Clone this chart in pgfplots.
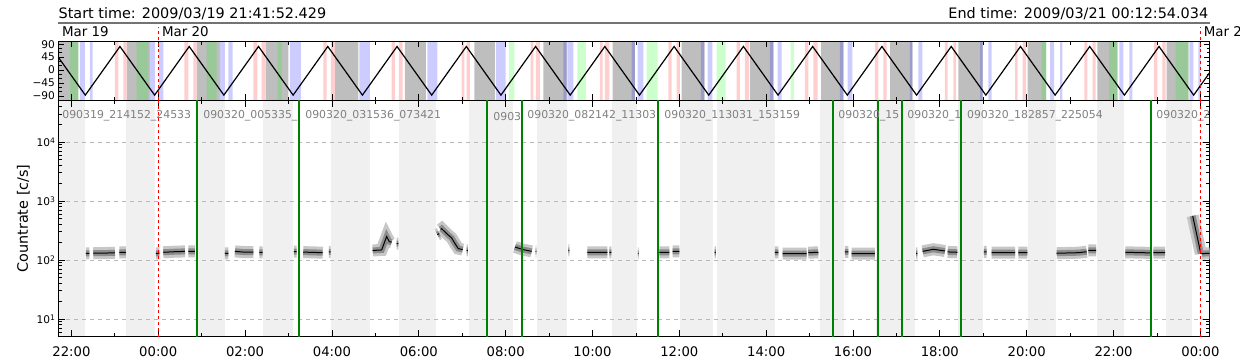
\documentclass[border=0pt]{standalone}
\usepackage{pgfplots}
\pgfplotsset{compat=1.18}
\usepackage{fontspec}
\setmainfont{DejaVu Sans}
\definecolor{bgray}{HTML}{BEBEBE}
\definecolor{dgreen}{HTML}{99C899}
\definecolor{dblue}{HTML}{9C9CCC}
\definecolor{lblue}{HTML}{CCCCFF}
\definecolor{lgreen}{HTML}{CCFFCC}
\definecolor{lpink}{HTML}{FFCFCF}
\definecolor{bglight}{HTML}{F0F0F0}
\definecolor{gline}{HTML}{008000}
\pgfplotstableread{
x y
-1.665 130
-1.589 130
nan nan
-1.497 130
-0.997 132
nan nan
-0.898 135
-0.744 135
nan nan
-0.053 130
0.023 130
nan nan
0.115 135
0.365 138
0.615 140
nan nan
0.691 140
0.845 140
nan nan
1.536 130
1.612 130
nan nan
1.766 140
1.977 136
2.188 136
nan nan
2.326 135
2.404 135
nan nan
3.125 138
3.187 138
nan nan
3.339 136
3.786 133
nan nan
3.931 137
3.970 137
nan nan
4.938 145
5.145 148
5.260 250
5.320 205
5.375 200
nan nan
5.491 190
5.527 190
nan nan
6.426 270
6.472 280
nan nan
6.504 330
6.527 340
6.642 280
6.757 236
6.833 190
6.909 156
7.011 150
nan nan
7.103 145
7.133 145
nan nan
8.215 166
8.400 150
8.600 140
nan nan
8.690 140
8.710 140
nan nan
9.443 145
9.466 145
nan nan
9.880 135
10.341 135
nan nan
10.387 135
10.433 135
nan nan
11.045 130
11.065 130
nan nan
11.538 135
11.769 135
nan nan
11.847 140
11.999 140
nan nan
12.814 135
12.844 135
nan nan
14.203 135
14.279 135
nan nan
14.380 128
14.933 128
nan nan
14.970 133
15.200 135
nan nan
15.815 137
15.891 137
nan nan
15.969 128
16.506 128
nan nan
17.451 130
17.480 130
nan nan
17.604 140
17.850 152
18.118 142
nan nan
18.180 137
18.401 135
nan nan
19.016 137
19.078 137
nan nan
19.194 133
19.731 133
nan nan
19.807 133
20.014 133
nan nan
20.691 130
21.200 133
21.382 138
nan nan
21.419 145
21.596 145
nan nan
22.271 135
22.840 132
nan nan
22.916 133
23.186 133
nan nan
23.823 560
24.010 128
nan nan
24.030 128
24.215 130
}\ratetable
\begin{document}
\begin{tikzpicture}
\pgfplotsset{
  panel/.style={scale only axis, width=575.7pt, xmin=-2.302, xmax=24.215, anchor=south west},
  band/.style={const plot mark left, fill=#1, draw=none},
}
% ---------------- top panel: bands ----------------
\begin{axis}[panel, at={(29.15pt,129.85pt)}, height=29.5pt, ymin=0, ymax=1, hide axis]
\addplot[band=bgray] coordinates {(-2.302,1)(-2.034,0)(-0.728,1)(-0.191,0)(0.884,1)(1.421,0)(2.474,1)(2.997,0)(4.070,1)(4.606,0)(5.682,1)(6.165,0)(7.278,1)(7.755,0)(8.867,1)(9.406,0)(10.465,1)(10.979,0)(12.054,1)(12.575,0)(13.628,1)(14.164,0)(15.263,1)(15.776,0)(16.852,1)(17.365,0)(18.425,1)(18.987,0)(20.023,1)(20.445,0)(21.626,1)(22.087,0)(23.224,1)(23.722,0)} \closedcycle;
\addplot[band=dgreen] coordinates {(-2.034,1)(-1.842,0)(-0.497,1)(-0.230,0)(1.115,1)(1.345,0)(2.750,1)(2.842,0)(20.346,1)(20.445,0)(21.896,1)(22.087,0)(23.432,1)(23.722,0)} \closedcycle;
\addplot[band=dblue] coordinates {(9.328,1)(9.406,0)(10.903,1)(10.979,0)(12.499,1)(12.575,0)(14.088,1)(14.164,0)(15.700,1)(15.776,0)(17.312,1)(17.365,0)(18.925,1)(18.987,0)} \closedcycle;
\addplot[band=lblue] coordinates {(-1.803,1)(-1.688,0)(-1.573,1)(-1.511,0)(-0.191,1)(-0.076,0)(0.016,1)(0.115,0)(1.421,1)(1.536,0)(1.612,1)(1.714,0)(3.033,1)(3.287,0)(4.629,1)(4.876,0)(6.195,1)(6.426,0)(7.778,1)(8.001,0)(9.420,1)(9.558,0)(11.041,1)(11.170,0)(12.653,1)(12.759,0)(14.266,1)(14.358,0)(15.878,1)(15.984,0)(17.504,1)(17.596,0)(19.116,1)(19.194,0)(20.537,1)(20.629,0)(20.768,1)(20.820,0)(22.133,1)(22.225,0)(22.363,1)(22.432,0)(23.745,1)(23.837,0)(23.952,1)(24.008,0)} \closedcycle;
\addplot[band=lgreen] coordinates {(8.077,1)(8.199,0)(9.650,1)(9.850,0)(11.248,1)(11.502,0)(12.861,1)(13.068,0)(14.565,1)(14.641,0)} \closedcycle;
\addplot[band=lpink] coordinates {(-0.997,1)(-0.921,0)(-0.806,1)(-0.728,0)(0.599,1)(0.691,0)(0.806,1)(0.884,0)(2.188,1)(2.280,0)(2.381,1)(2.474,0)(3.800,1)(3.878,0)(3.977,1)(4.070,0)(5.375,1)(5.452,0)(5.544,1)(5.629,0)(6.988,1)(7.048,0)(7.103,1)(7.179,0)(8.577,1)(8.637,0)(8.699,1)(8.791,0)(10.173,1)(10.235,0)(10.288,1)(10.387,0)(11.746,1)(11.824,0)(11.939,1)(12.015,0)(13.321,1)(13.397,0)(13.512,1)(13.605,0)(14.894,1)(14.970,0)(15.085,1)(15.187,0)(16.506,1)(16.582,0)(16.697,1)(16.776,0)(18.118,1)(18.181,0)(18.310,1)(18.372,0)(19.731,1)(19.793,0)(19.908,1)(19.984,0)(21.327,1)(21.396,0)(21.520,1)(21.589,0)(22.932,1)(23.008,0)(23.123,1)(23.201,0)} \closedcycle;
\end{axis}
% ---------------- top panel: orbit curve ----------------
\begin{axis}[panel, at={(29.15pt,129.85pt)}, height=29.5pt, ymin=-105, ymax=100, clip=false,
  tick align=inside, major tick length=3pt, minor tick length=1.6pt,
  xtick={-2,0,...,24}, xticklabel={}, minor x tick num=1,
  ytick={-90,-45,0,45,90}, yticklabels={−90,−45,0,45,90}, minor y tick num=2,
  yticklabel style={font=\fontsize{5.3}{6}\selectfont, inner sep=1.5pt},
  axis line style={line width=0.5pt}, every tick/.style={black, line width=0.4pt}]
\addplot[black, line width=0.6pt] coordinates {(-2.302,44.7)(-1.680,-87)(-0.882,82)(-0.084,-87)(0.713,82)(1.511,-87)(2.309,82)(3.106,-87)(3.904,82)(4.702,-87)(5.499,82)(6.297,-87)(7.095,82)(7.892,-87)(8.690,82)(9.488,-87)(10.285,82)(11.083,-87)(11.880,82)(12.678,-87)(13.476,82)(14.273,-87)(15.071,82)(15.869,-87)(16.666,82)(17.464,-87)(18.262,82)(19.059,-87)(19.857,82)(20.655,-87)(21.452,82)(22.250,-87)(23.047,82)(23.845,-87)(24.215,-8.6)};
\addplot[red, line width=0.5pt, dash pattern=on 1.5pt off 1.5pt, unbounded coords=jump] coordinates {(0,-105)(0,148)(nan,nan)(24,-105)(24,148)};
\draw[black!55, line width=0.8pt] (axis cs:-2.302,164.6) -- (axis cs:24.215,164.6);
\node[anchor=base west, inner sep=0, font=\fontsize{7.2}{8}\selectfont] at (axis cs:-2.302,180) {Start time: 2009/03/19 21:41:52.429};
\node[anchor=base east, inner sep=0, font=\fontsize{7.2}{8}\selectfont] at (axis cs:24.19,180) {End time: 2009/03/21 00:12:54.034};
\node[anchor=base west, inner sep=0, font=\fontsize{6.7}{8}\selectfont] at (axis cs:-2.225,118) {Mar 19};
\node[anchor=base west, inner sep=0, font=\fontsize{6.7}{8}\selectfont] at (axis cs:0.078,118) {Mar 20};
\node[anchor=base west, inner sep=0, font=\fontsize{6.7}{8}\selectfont] at (axis cs:24.07,118) {Mar 21};
\end{axis}
% ---------------- bottom panel: background ----------------
\begin{axis}[panel, at={(29.15pt,11.65pt)}, height=118.2pt, ymin=0, ymax=1, hide axis]
\addplot[band=bglight] coordinates {(-2.302,1)(24.215,0)} \closedcycle;
\addplot[band=white] coordinates {(-1.686,1)(-0.744,0)(-0.076,1)(0.868,0)(1.536,1)(2.412,0)(3.102,1)(3.977,0)(4.875,1)(5.543,0)(6.395,1)(7.156,0)(8.168,1)(8.721,0)(9.412,1)(10.449,0)(11.025,1)(12.015,0)(12.775,1)(12.867,0)(14.202,1)(15.238,0)(15.791,1)(16.528,0)(17.427,1)(18.417,0)(18.993,1)(20.029,0)(20.674,1)(21.620,0)(22.242,1)(23.209,0)(23.808,1)(24.215,0)} \closedcycle;
\end{axis}
% ---------------- bottom panel: count rate ----------------
\begin{axis}[panel, at={(29.15pt,11.65pt)}, height=118.2pt, ymode=log, ymin=5, ymax=5.1e4,
  tick align=inside, major tick length=3.5pt, minor tick length=1.8pt,
  xtick={-2,0,...,24}, minor x tick num=1,
  xticklabels={22:00,00:00,02:00,04:00,06:00,08:00,10:00,12:00,14:00,16:00,18:00,20:00,22:00,00:00},
  xticklabel style={font=\fontsize{6.6}{7}\selectfont, yshift=-1.5pt},
  ytick={10,100,1000,10000},
  yticklabels={10\raisebox{0.55ex}{\fontsize{3.8}{4}\selectfont 1},10\raisebox{0.55ex}{\fontsize{3.8}{4}\selectfont 2},10\raisebox{0.55ex}{\fontsize{3.8}{4}\selectfont 3},10\raisebox{0.55ex}{\fontsize{3.8}{4}\selectfont 4}},
  minor ytick={6,7,8,9,20,30,40,50,60,70,80,90,200,300,400,500,600,700,800,900,2000,3000,4000,5000,6000,7000,8000,9000,20000,30000,40000,50000},
  yticklabel style={font=\fontsize{5.3}{6}\selectfont, inner sep=1.5pt},
  ymajorgrids, major grid style={black!28, dash pattern=on 2pt off 2pt, line width=0.4pt},
  ylabel={Countrate [c/s]},
  ylabel style={at={(axis description cs:-0.0304,0.5)}, anchor=center, font=\fontsize{7.2}{8}\selectfont},
  axis line style={line width=0.5pt}, every tick/.style={black, line width=0.4pt}]
\addplot[black!22, line width=6pt, unbounded coords=jump] table {\ratetable};
\addplot[black!45, line width=3pt, unbounded coords=jump] table {\ratetable};
\addplot[black, line width=0.5pt, unbounded coords=jump] table {\ratetable};
\addplot[gline, line width=1pt, unbounded coords=jump] coordinates {(0.884,5)(0.884,5.1e4)(nan,nan)(3.247,5)(3.247,5.1e4)(nan,nan)(7.577,5)(7.577,5.1e4)(nan,nan)(8.370,5)(8.370,5.1e4)(nan,nan)(11.502,5)(11.502,5.1e4)(nan,nan)(15.532,5)(15.532,5.1e4)(nan,nan)(16.569,5)(16.569,5.1e4)(nan,nan)(17.128,5)(17.128,5.1e4)(nan,nan)(18.480,5)(18.480,5.1e4)(nan,nan)(22.856,5)(22.856,5.1e4)};
\addplot[red, line width=0.5pt, dash pattern=on 1.5pt off 1.5pt, unbounded coords=jump] coordinates {(0,5)(0,5.1e4)(nan,nan)(24,5)(24,5.1e4)};
\begin{scope}[every node/.style={anchor=west, inner sep=0, text=black!50, font=\fontsize{5.45}{6}\selectfont}]
\node at (axis cs:-2.218,27500) {090319\_214152\_24533};
\node at (axis cs:1.029,27500) {090320\_005335\_};
\node at (axis cs:3.379,27500) {090320\_031536\_073421};
\node at (axis cs:7.709,27500) {0903};
\node at (axis cs:8.492,27500) {090320\_082142\_11303};
\node at (axis cs:11.647,27500) {090320\_113031\_153159};
\node at (axis cs:15.654,27500) {090320\_15};
\node at (axis cs:17.243,27500) {090320\_1};
\node at (axis cs:18.618,27500) {090320\_182857\_225054};
\node at (axis cs:22.978,27500) {090320\_2};
\end{scope}
\end{axis}
\pgfresetboundingbox
\useasboundingbox (0,0) rectangle (620pt,180pt);
\end{tikzpicture}
\end{document}
